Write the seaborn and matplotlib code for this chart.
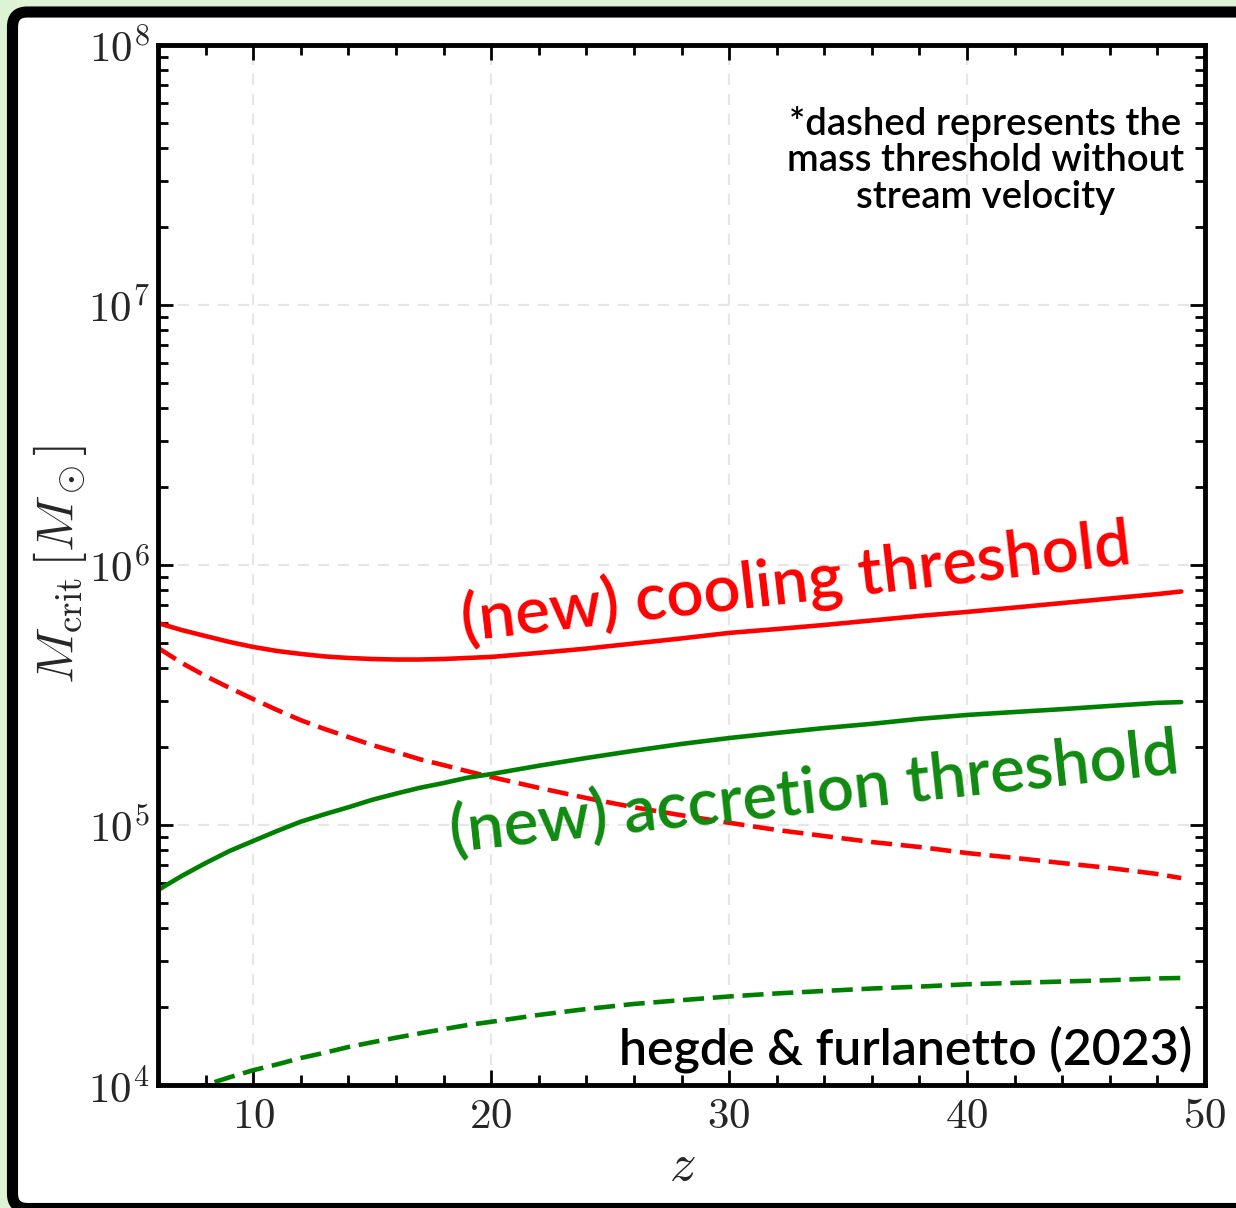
import numpy as np
import pandas as pd
import matplotlib
matplotlib.use("Agg")
import matplotlib.pyplot as plt
import seaborn as sns
from matplotlib.ticker import MultipleLocator, LogLocator, FuncFormatter, NullFormatter
from matplotlib.patches import FancyBboxPatch

# ---- data ----
z = [6, 7, 8, 9, 10, 11, 12, 13, 14, 15, 16, 17, 18, 19, 20,
     22, 24, 26, 28, 30, 32, 34, 36, 38, 40, 42, 44, 46, 48, 49]
cooling_new = [5.98e5, 5.62e5, 5.33e5, 5.06e5, 4.84e5, 4.67e5, 4.55e5, 4.45e5,
               4.39e5, 4.35e5, 4.33e5, 4.33e5, 4.35e5, 4.39e5, 4.43e5,
               4.59e5, 4.77e5, 4.99e5, 5.22e5, 5.48e5, 5.67e5, 5.88e5, 6.12e5,
               6.37e5, 6.60e5, 6.86e5, 7.14e5, 7.43e5, 7.73e5, 7.91e5]
cooling_nostream = [4.80e5, 4.20e5, 3.74e5, 3.37e5, 3.05e5, 2.77e5, 2.53e5, 2.34e5,
                    2.18e5, 2.03e5, 1.91e5, 1.79e5, 1.70e5, 1.61e5, 1.53e5,
                    1.39e5, 1.27e5, 1.17e5, 1.09e5, 1.02e5, 9.57e4, 9.07e4, 8.60e4,
                    8.23e4, 7.80e4, 7.47e4, 7.14e4, 6.83e4, 6.48e4, 6.25e4]
accretion_new = [5.62e4, 6.37e4, 7.14e4, 7.94e4, 8.68e4, 9.48e4, 1.03e5, 1.10e5,
                 1.17e5, 1.25e5, 1.32e5, 1.39e5, 1.45e5, 1.52e5, 1.57e5,
                 1.69e5, 1.81e5, 1.93e5, 2.05e5, 2.16e5, 2.26e5, 2.36e5, 2.45e5,
                 2.56e5, 2.65e5, 2.72e5, 2.79e5, 2.87e5, 2.95e5, 2.97e5]
accretion_nostream = [8.68e3, 9.32e3, 1.0e4, 1.07e4, 1.14e4, 1.20e4, 1.27e4, 1.33e4,
                      1.40e4, 1.46e4, 1.52e4, 1.58e4, 1.64e4, 1.70e4, 1.75e4,
                      1.86e4, 1.96e4, 2.05e4, 2.12e4, 2.19e4, 2.25e4, 2.30e4, 2.35e4,
                      2.39e4, 2.44e4, 2.47e4, 2.50e4, 2.53e4, 2.57e4, 2.58e4]

label_cool = "(new) cooling threshold"
label_acc = "(new) accretion threshold"
note = "*dashed represents the\nmass threshold without\nstream velocity"
credit = "hegde & furlanetto (2023)"

sns.set_theme(style="white")
plt.rcParams["font.family"] = ["Lato", "DejaVu Sans"]
plt.rcParams["mathtext.fontset"] = "cm"

W, H = 1236, 1208
fig = plt.figure(figsize=(W / 100, H / 100), dpi=100)
fig.patch.set_facecolor("#dcf4d3")

# rounded black frame with white interior
frame = FancyBboxPatch((12.5 / W, -0.5 / H), 1.05, (1208.5 - 12.5 + 0.5) / H,
                       boxstyle="round,pad=0,rounding_size=0.012",
                       mutation_aspect=W / H,
                       transform=fig.transFigure, facecolor="white",
                       edgecolor="black", linewidth=8, zorder=-10)
fig.patches.append(frame)

ax = fig.add_axes([158 / W, 1 - 1085 / H, (1205 - 158) / W, (1085 - 45) / H])
ax.set_zorder(5)
ax.set_facecolor("white")

lw = 3.3
dash = (0, (4.6, 1.9))
sns.lineplot(x=z, y=cooling_new, ax=ax, color="#ff0000", lw=lw)
sns.lineplot(x=z, y=cooling_nostream, ax=ax, color="#ff0000", lw=lw, linestyle=dash)
sns.lineplot(x=z, y=accretion_new, ax=ax, color="#008000", lw=lw)
sns.lineplot(x=z, y=accretion_nostream, ax=ax, color="#008000", lw=lw, linestyle=dash)

ax.set_yscale("log")
ax.set_xlim(6, 50)
ax.set_ylim(1e4, 1e8)

ax.xaxis.set_major_locator(MultipleLocator(10))
ax.xaxis.set_minor_locator(MultipleLocator(2))
ax.yaxis.set_major_locator(LogLocator(base=10, numticks=10))
ax.yaxis.set_minor_locator(LogLocator(base=10, subs=np.arange(2, 10), numticks=20))
ax.yaxis.set_minor_formatter(NullFormatter())
ax.xaxis.set_major_formatter(FuncFormatter(lambda v, p: r"$\mathrm{%d}$" % v))
ax.yaxis.set_major_formatter(FuncFormatter(lambda v, p: r"$\mathrm{10^{%d}}$" % int(round(np.log10(v)))))

ax.tick_params(which="both", direction="in", top=True, right=True, left=True,
               bottom=True, color="black")
ax.tick_params(which="major", length=11, width=2.0, labelsize=31)
ax.tick_params(which="minor", length=7, width=2.0)
ax.tick_params(axis="x", which="major", pad=9)
ax.tick_params(axis="y", which="major", pad=6)

for s in ax.spines.values():
    s.set_color("black")
    s.set_linewidth(3.5)

ax.grid(True, which="major", color="#e6e6e6", linestyle=(0, (5, 4)), linewidth=1.6)
ax.set_axisbelow(True)

ax.set_xlabel(r"$z$", fontsize=38, va="center", ha="center")
ax.set_ylabel(r"$M_{\rm crit}\,[M_\odot]$", fontsize=38, va="center", ha="center")
ax.xaxis.set_label_coords(0.501, -0.077)
ax.yaxis.set_label_coords(-0.094, 0.5)

ax.text(0.609, 0.483, label_cool, transform=ax.transAxes, color="#ff0000",
        fontsize=47, fontweight="semibold", rotation=6.6, ha="center", va="center",
        rotation_mode="anchor")
ax.text(0.627, 0.281, label_acc, transform=ax.transAxes, color="#108a10",
        fontsize=47, fontweight="semibold", rotation=6.2, ha="center", va="center",
        rotation_mode="anchor")
ax.text(0.79, 0.889, note, transform=ax.transAxes, color="black", fontsize=27.5,
        fontweight="semibold", ha="center", va="center", linespacing=1.05)
ax.text(0.988, 0.034, credit, transform=ax.transAxes, color="black", fontsize=36,
        fontweight="semibold", ha="right", va="center")

fig.savefig("out.png", dpi=100, facecolor=fig.get_facecolor())
